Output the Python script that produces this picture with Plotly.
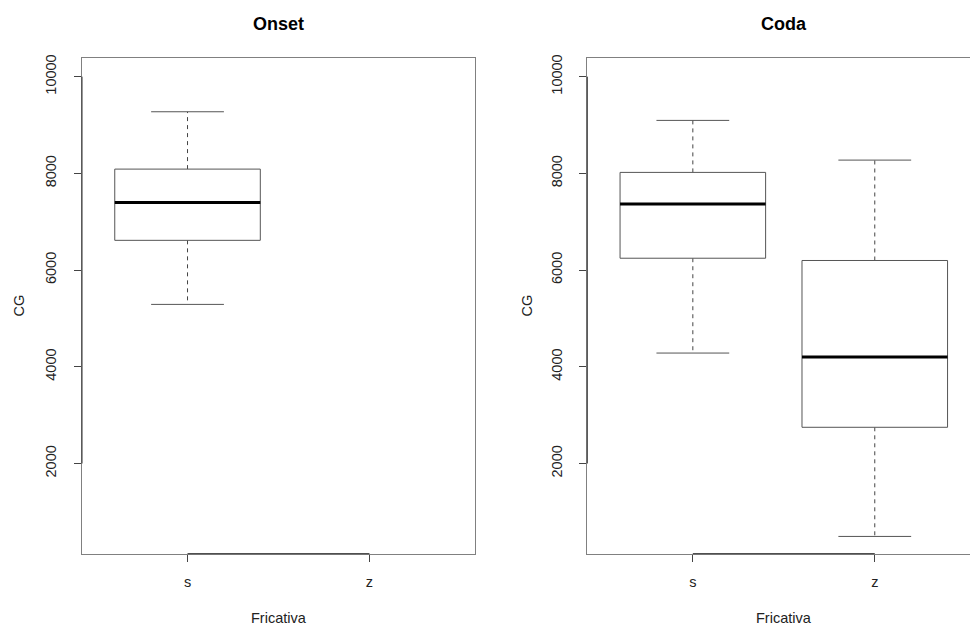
import plotly.graph_objects as go

categories = ["s", "z"]
positions = [1, 2]
panel_titles = ["Onset", "Coda"]
x_title = "Fricativa"
y_title = "CG"
y_ticks = [2000, 4000, 6000, 8000, 10000]

# Onset panel (no data for z)
onset_low = [5290, None]
onset_q1 = [6615, None]
onset_med = [7397, None]
onset_q3 = [8088, None]
onset_high = [9274, None]

# Coda panel
coda_low = [4284, 492]
coda_q1 = [6245, 2749]
coda_med = [7368, 4202]
coda_q3 = [8020, 6198]
coda_high = [9095, 8274]

W, H = 970, 625
FONT = "Liberation Sans, Arial, Helvetica, sans-serif"
BOXW = 0.4
CAPW = 0.2

fig = go.Figure()


def add_box(xa, ya, pos, lo, q1, med, q3, hi):
    common = dict(xaxis=xa, yaxis=ya, mode="lines", hoverinfo="skip", showlegend=False)
    fig.add_trace(go.Scatter(x=[pos, pos, None, pos, pos], y=[q3, hi, None, q1, lo],
                             line=dict(color="#444444", width=1, dash="4px,4px"), **common))
    fig.add_trace(go.Scatter(x=[pos - CAPW, pos + CAPW, None, pos - CAPW, pos + CAPW],
                             y=[hi, hi, None, lo, lo],
                             line=dict(color="#555555", width=1), **common))
    fig.add_trace(go.Scatter(x=[pos - BOXW, pos + BOXW, pos + BOXW, pos - BOXW, pos - BOXW],
                             y=[q1, q1, q3, q3, q1], fill="toself", fillcolor="white",
                             line=dict(color="#555555", width=1), **common))
    fig.add_trace(go.Scatter(x=[pos - BOXW, pos + BOXW], y=[med, med],
                             line=dict(color="black", width=3), **common))


panels = [
    ("x", "y", onset_low, onset_q1, onset_med, onset_q3, onset_high),
    ("x2", "y2", coda_low, coda_q1, coda_med, coda_q3, coda_high),
]
for xa, ya, lo, q1, md, q3, hi in panels:
    for i, p in enumerate(positions):
        if md[i] is None:
            continue
        add_box(xa, ya, p, lo[i], q1[i], md[i], q3[i], hi[i])

top_px, bot_px = 55, 553.3
ydom = [1 - bot_px / H, 1 - top_px / H]
left_dom = [82 / W, 475 / W]
right_dom = [587.3 / W, 1.0]
unit = (475 - 82) / 2.16
right_end = 0.42 + (W - 587.3) / unit

axis_font = dict(family=FONT, size=14.5, color="#222222")
xcommon = dict(tickvals=positions, ticktext=categories, ticks="outside", ticklen=7,
               tickcolor="#444444", showline=True, linecolor="#808080", mirror=True,
               showgrid=False, zeroline=False, tickfont=axis_font, fixedrange=True,
               ticklabelstandoff=8)
ycommon = dict(tickvals=y_ticks, ticktext=[str(v) for v in y_ticks], range=[136, 10391],
               ticks="outside", ticklen=7, tickcolor="#444444", showline=True,
               linecolor="#808080", showgrid=False, zeroline=False, tickangle=-90,
               tickfont=axis_font, fixedrange=True, ticklabelstandoff=12, domain=ydom)

fig.update_layout(
    width=W, height=H,
    margin=dict(l=0, r=0, t=0, b=0),
    paper_bgcolor="white", plot_bgcolor="white",
    showlegend=False,
    xaxis=dict(domain=left_dom, range=[0.42, 2.58], anchor="y", **xcommon),
    yaxis=dict(anchor="x", mirror=True, **ycommon),
    xaxis2=dict(domain=right_dom, range=[0.42, right_end], anchor="y2", **xcommon),
    yaxis2=dict(anchor="x2", mirror=False, **ycommon),
)

# darker axis segments (R axis lines between first and last ticks)
for xa, ya in [("x", "y"), ("x2", "y2")]:
    fig.add_shape(type="line", xref=xa, yref=ya + " domain", x0=positions[0], x1=positions[-1],
                  y0=0, y1=0, line=dict(color="#333333", width=1))
    fig.add_shape(type="line", xref=xa + " domain", yref=ya, x0=0, x1=0,
                  y0=y_ticks[0], y1=y_ticks[-1], line=dict(color="#333333", width=1))

centers = [(82 + 475) / 2 / W, (587.3 + 587.3 + 2.16 * unit) / 2 / W]
ylab_x = [19 / W, 527 / W]
for c, t, yx in zip(centers, panel_titles, ylab_x):
    fig.add_annotation(x=c, y=1 - 21 / H, xref="paper", yref="paper", text="<b>" + t + "</b>",
                       showarrow=False, font=dict(family=FONT, size=18, color="black"),
                       xanchor="center", yanchor="middle")
    fig.add_annotation(x=c, y=1 - 618 / H, xref="paper", yref="paper", text=x_title,
                       showarrow=False, font=axis_font, xanchor="center", yanchor="middle")
    fig.add_annotation(x=yx, y=1 - 304 / H, xref="paper", yref="paper", text=y_title,
                       showarrow=False, font=axis_font, textangle=-90,
                       xanchor="center", yanchor="middle")

fig.write_html("out.html")
